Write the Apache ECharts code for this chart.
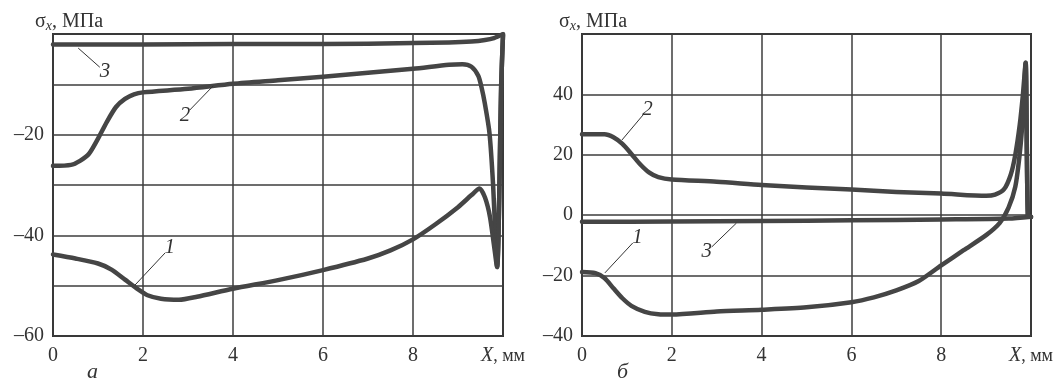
<!DOCTYPE html>
<html>
<head>
<meta charset="utf-8">
<script src="https://cdn.jsdelivr.net/npm/echarts@6.0.0/dist/echarts.min.js"></script>
<style>
  html, body { margin: 0; padding: 0; background: #fff; }
  #chart { width: 1056px; height: 381px; }
</style>
</head>
<body>
<div id="chart"></div>
<script>
// panel a (left)
var leftCurve1 = [[0,-43.8],[0.5,-44.6],[1.0,-45.6],[1.3,-46.8],[1.6,-48.8],[1.9,-50.8],[2.1,-51.9],[2.4,-52.6],[2.8,-52.8],[3.2,-52.2],[4,-50.6],[5,-48.9],[6,-46.9],[7,-44.6],[7.5,-43],[8,-40.8],[8.5,-37.8],[9,-34.4],[9.3,-32],[9.48,-30.7],[9.6,-32.5],[9.71,-36.3],[9.8,-42],[9.87,-46.3],[9.9,-40],[9.93,-25],[9.96,-10],[10,-0.2]];
var leftCurve2 = [[0,-26.2],[0.4,-26.0],[0.6,-25.2],[0.8,-23.8],[1.0,-20.8],[1.2,-17.4],[1.4,-14.5],[1.6,-12.9],[1.8,-12.0],[2.0,-11.6],[3,-10.9],[4,-9.9],[5,-9.2],[6,-8.5],[7,-7.7],[8,-6.9],[8.8,-6.1],[9.1,-6.0],[9.3,-6.5],[9.45,-8.3],[9.52,-10.5],[9.6,-14],[9.7,-19.7],[9.78,-30],[9.83,-40],[9.87,-46.3],[9.9,-40],[9.93,-25],[9.96,-10],[10,-0.2]];
var leftCurve3 = [[0,-2.1],[2,-2.1],[4,-2.0],[6,-2.0],[8,-1.8],[8.8,-1.7],[9.3,-1.5],[9.6,-1.2],[9.8,-0.8],[10,0]];

// panel б (right)
var rightCurve1 = [[0,-18.8],[0.3,-19.2],[0.5,-20.8],[0.7,-24.2],[0.9,-27.5],[1.1,-30],[1.4,-32],[1.7,-32.8],[2,-32.9],[3,-31.9],[4,-31.3],[5,-30.5],[6,-28.8],[6.5,-27.2],[7,-24.9],[7.5,-21.8],[8,-16.6],[8.5,-11.6],[9,-6.6],[9.3,-2.6],[9.5,2.5],[9.65,9.4],[9.75,20.5],[9.82,33],[9.88,50.5],[9.93,0],[10,-0.6]];
var rightCurve2 = [[0,26.8],[0.5,26.8],[0.7,25.8],[0.9,23.6],[1.1,20.3],[1.3,16.8],[1.5,14.1],[1.7,12.6],[2,11.8],[3,11.1],[4,10.0],[5,9.2],[6,8.5],[7,7.7],[8,7.2],[9,6.4],[9.2,6.8],[9.4,8.6],[9.55,13.5],[9.65,20],[9.75,30],[9.82,40],[9.88,50.5],[9.93,0],[10,-0.6]];
var rightCurve3 = [[0,-2.2],[2,-2.1],[4,-1.9],[6,-1.7],[8,-1.4],[9.5,-1.1],[10,-0.5]];

// tick labels that are printed
var xTicks = [0, 2, 4, 6, 8];
var leftYTicks = [-60, -40, -20];
var rightYTicks = [-40, -20, 0, 20, 40];

// curve numbers with their leader lines (data coords: line start, line end)
var leftTags = [
    {name: '1', from: [1.82, -49.9], to: [2.49, -43.5]},
    {name: '2', from: [3.56, -10.3], to: [3.04, -15.1]},
    {name: '3', from: [0.56, -2.8], to: [1.04, -6.6]}
];
var rightTags = [
    {name: '1', from: [0.51, -19.1], to: [1.13, -9.2]},
    {name: '2', from: [0.89, 24.9], to: [1.36, 33.2]},
    {name: '3', from: [3.44, -2.6], to: [2.89, -10.5]}
];

var serif = '"Liberation Serif", "DejaVu Serif", serif';
var ink = '#454545';

function dash(v) {
    return String(v).replace('-', '\u2013');
}

function xAxisFor(idx) {
    return {
        type: 'value', gridIndex: idx, min: 0, max: 10, interval: 2,
        axisLine: {show: false}, axisTick: {show: false},
        splitLine: {show: true, lineStyle: {color: '#3c3c3c', width: 1.5}},
        axisLabel: {
            margin: 10, fontFamily: serif, fontSize: 20, color: '#333',
            showMaxLabel: true,
            formatter: function (v) {
                if (v === 10) return '{i|X}{n|, мм}';
                return xTicks.indexOf(v) >= 0 ? String(v) : '';
            },
            rich: {
                i: {fontFamily: serif, fontSize: 20, fontStyle: 'italic', color: '#333'},
                n: {fontFamily: serif, fontSize: 18, color: '#333'}
            }
        }
    };
}

function yAxisFor(idx, min, max, step, ticks) {
    return {
        type: 'value', gridIndex: idx, min: min, max: max, interval: step,
        axisLine: {show: false}, axisTick: {show: false},
        splitLine: {show: true, lineStyle: {color: '#3c3c3c', width: 1.5}},
        axisLabel: {
            margin: 9, fontFamily: serif, fontSize: 20, color: '#333',
            formatter: function (v) {
                return ticks.indexOf(v) >= 0 ? dash(v) : '';
            }
        }
    };
}

function curve(idx, data, tag) {
    return {
        type: 'line', xAxisIndex: idx, yAxisIndex: idx,
        data: data, showSymbol: false, smooth: 0.25, smoothMonotone: 'none',
        lineStyle: {color: ink, width: 4.5, cap: 'round', join: 'round'},
        itemStyle: {color: ink},
        markLine: {
            silent: true, animation: false,
            symbol: ['none', 'none'],
            lineStyle: {type: 'solid', color: '#333', width: 1},
            label: {
                show: true, position: 'end', distance: 7,
                formatter: tag.name,
                fontFamily: serif, fontSize: 21, fontStyle: 'italic', color: '#333'
            },
            data: [[{coord: tag.from}, {coord: tag.to}]]
        }
    };
}

var heading = {
    text: '{s|σ}{x|x}{n|, МПа}',
    textStyle: {rich: {
        s: {fontFamily: serif, fontSize: 20, fontWeight: 'normal', color: '#333'},
        x: {fontFamily: serif, fontSize: 14, fontStyle: 'italic', fontWeight: 'normal', color: '#333', verticalAlign: 'bottom', padding: [8, 0, 0, 0]},
        n: {fontFamily: serif, fontSize: 20, fontWeight: 'normal', color: '#333'}
    }}
};

var option = {
    animation: false,
    backgroundColor: '#fff',
    title: [
        Object.assign({left: 30, top: 6}, heading),
        Object.assign({left: 554, top: 6}, heading),
        {text: 'а', left: 82, top: 356, textStyle: {fontFamily: serif, fontSize: 22, fontStyle: 'italic', fontWeight: 'normal', color: '#333'}},
        {text: 'б', left: 612, top: 356, textStyle: {fontFamily: serif, fontSize: 22, fontStyle: 'italic', fontWeight: 'normal', color: '#333'}}
    ],
    grid: [
        {left: 53, top: 34, width: 450, height: 302, show: true, borderColor: '#333', borderWidth: 2, backgroundColor: 'transparent'},
        {left: 582, top: 34, width: 450, height: 302, show: true, borderColor: '#333', borderWidth: 2, backgroundColor: 'transparent'}
    ],
    xAxis: [xAxisFor(0), xAxisFor(1)],
    yAxis: [yAxisFor(0, -60, 0, 10, leftYTicks), yAxisFor(1, -40, 60, 20, rightYTicks)],
    series: [
        curve(0, leftCurve3, leftTags[2]),
        curve(0, leftCurve2, leftTags[1]),
        curve(0, leftCurve1, leftTags[0]),
        curve(1, rightCurve3, rightTags[2]),
        curve(1, rightCurve2, rightTags[1]),
        curve(1, rightCurve1, rightTags[0])
    ]
};

var pic = echarts.init(document.getElementById('chart'), null, {renderer: 'canvas'});
pic.setOption(option);
</script>
</body>
</html>
